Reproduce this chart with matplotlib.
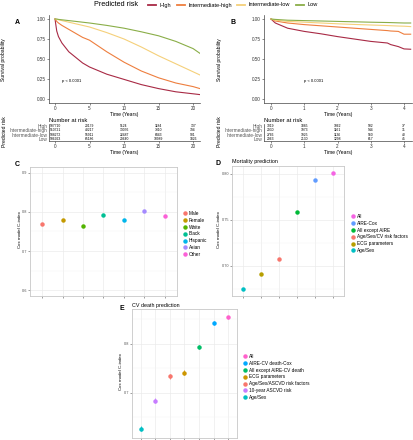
import matplotlib
matplotlib.use('Agg')
import matplotlib.pyplot as plt
from matplotlib.lines import Line2D

plt.rcParams['font.family'] = ['Liberation Sans', 'DejaVu Sans']

W, H = 414, 440

# ---- data ----
risk_groups = ['High', 'Intermediate-high', 'Intermediate-low', 'Low']
risk_colors = ['#A82A45', '#EE7E3E', '#F5D07A', '#8AAE48']

a_time = [0, 0.25, 0.5, 1, 2, 3, 4, 5, 7.5, 10, 12.5, 15, 17.5, 20, 21]
a_high = [1, 0.85, 0.78, 0.70, 0.59, 0.52, 0.45, 0.40, 0.31, 0.245, 0.18, 0.13, 0.09, 0.065, 0.055]
a_inthigh = [1, 0.97, 0.95, 0.92, 0.87, 0.82, 0.77, 0.735, 0.59, 0.46, 0.35, 0.265, 0.20, 0.155, 0.13]
a_intlow = [1, 0.995, 0.99, 0.98, 0.96, 0.94, 0.92, 0.90, 0.83, 0.75, 0.65, 0.54, 0.44, 0.34, 0.30]
a_low = [1, 1, 0.995, 0.99, 0.98, 0.97, 0.96, 0.95, 0.92, 0.885, 0.84, 0.79, 0.72, 0.63, 0.57]

b_time = [0, 0.13, 0.5, 1, 1.5, 2, 2.5, 3, 3.5, 3.6, 3.83, 4, 4.2]
b_high = [1, 0.95, 0.885, 0.845, 0.815, 0.78, 0.75, 0.72, 0.70, 0.68, 0.655, 0.626, 0.622]
b_inthigh = [1, 0.975, 0.95, 0.93, 0.915, 0.90, 0.885, 0.87, 0.855, 0.85, 0.845, 0.81, 0.81]
b_intlow = [1, 0.985, 0.97, 0.96, 0.95, 0.94, 0.932, 0.925, 0.918, 0.916, 0.912, 0.91, 0.905]
b_low = [1, 0.995, 0.985, 0.98, 0.975, 0.97, 0.965, 0.96, 0.956, 0.955, 0.952, 0.95, 0.95]

a_table_time = [0, 5, 10, 15, 20]
a_table = [
    [507710, 20179, 5124, 1184, 137],
    [510721, 40217, 13076, 3310, 394],
    [508272, 55911, 22487, 6843, 901],
    [506923, 65186, 29640, 10989, 1826],
]
b_table_time = [0, 1, 2, 3, 4]
b_table = [
    [3019, 1885, 1062, 502, 37],
    [2930, 1973, 1161, 544, 31],
    [2766, 1925, 1136, 560, 40],
    [2963, 2130, 1298, 617, 45],
]

c_groups = ['Male', 'Female', 'White', 'Black', 'Hispanic', 'Asian', 'Other']
c_cindex = [0.770, 0.779, 0.763, 0.793, 0.780, 0.802, 0.790]
c_ci = [0.002, 0.002, 0.002, 0.002, 0.002, 0.002, 0.002]
c_colors = ['#F8766D', '#C49A00', '#53B400', '#00C094', '#00B6EB', '#A58AFF', '#FB61D7']

d_models = ['Age/Sex', 'ECG parameters', 'Age/Sex/CV risk factors', 'All except AIRE', 'AIRE-Cox', 'All']
d_cindex = [0.675, 0.691, 0.707, 0.759, 0.793, 0.801]
d_ci = [0.001, 0.001, 0.001, 0.001, 0.001, 0.001]
d_colors = ['#00BFC4', '#B79F00', '#F8766D', '#00BA38', '#619CFF', '#F564E3']

e_models = ['Age/Sex', '10-year ASCVD risk', 'Age/Sex/ASCVD risk factors', 'ECG parameters',
            'All except AIRE-CV death', 'AIRE-CV death-Cox', 'All']
e_cindex = [0.627, 0.684, 0.734, 0.741, 0.794, 0.842, 0.854]
e_ci = [0.005, 0.005, 0.005, 0.005, 0.004, 0.004, 0.003]
e_colors = ['#00BFC4', '#C77CFF', '#F8766D', '#CD9600', '#00BE67', '#00A9FF', '#FF61CC']


def box(l, t, r, b):
    return [l / W, 1 - b / H, (r - l) / W, (b - t) / H]


def fx(x):
    return x / W


def fy(y):
    return 1 - y / H


fig = plt.figure(figsize=(W / 100, H / 100), dpi=100)


def km_style(ax):
    for s in ['top', 'right']:
        ax.spines[s].set_visible(False)
    for s in ['left', 'bottom']:
        ax.spines[s].set_linewidth(0.5)
        ax.spines[s].set_color('#444444')
    ax.tick_params(length=1.5, width=0.4, labelsize=3.3, pad=1, colors='#333333')


def km_panel(rect, times, curves, xlim, xticks, lx):
    ax = fig.add_axes(box(*rect))
    lines = []
    for vals, col in zip(curves, risk_colors):
        ln, = ax.plot(times, vals, color=col, lw=0.8)
        lines.append(ln)
    ax.set_xlim(*xlim)
    ax.set_ylim(-0.05, 1.05)
    ax.set_xticks(xticks)
    ax.set_yticks([0, 0.25, 0.5, 0.75, 1.0])
    ax.set_yticklabels(['0.00', '0.25', '0.50', '0.75', '1.00'])
    km_style(ax)
    ax.set_xlabel('Time (Years)', fontsize=3.6, labelpad=0.5)
    ax.text(1, 0.21, 'p < 0.0001', fontsize=3.0)
    fig.text(fx(lx), fy(60), 'Survival probability', rotation=90, fontsize=3.6,
             ha='center', va='center')
    return ax, lines


def table_panel(rect, xlim, times, table, lx):
    ax = fig.add_axes(box(*rect))
    ax.set_xlim(*xlim)
    ax.set_ylim(0.5, 4.5)
    for i, row in enumerate(table):
        for t, n in zip(times, row):
            ax.text(t, 4 - i, str(n), fontsize=2.4, ha='center', va='center')
    ax.set_xticks(times)
    ax.set_yticks([4, 3, 2, 1])
    ax.set_yticklabels(risk_groups)
    km_style(ax)
    ax.tick_params(axis='y', length=0, labelsize=3.4, pad=1, labelcolor='#555555')
    ax.set_xlabel('Time (Years)', fontsize=3.6, labelpad=0.5)
    ax.set_title('Number at risk', fontsize=4.2, loc='left', pad=1.5)
    fig.text(fx(lx), fy(132), 'Predicted risk', rotation=90, fontsize=3.6,
             ha='center', va='center')
    return ax


axA, lines = km_panel((49, 15, 200, 103), a_time, [a_high, a_inthigh, a_intlow, a_low],
                      (-0.87, 21.0), [0, 5, 10, 15, 20], 4)
axB, _ = km_panel((264, 15, 412, 103), b_time, [b_high, b_inthigh, b_intlow, b_low],
                  (-0.21, 4.24), [0, 1, 2, 3, 4], 220)

table_panel((49, 124, 200, 141), (-0.87, 21.0), a_table_time, a_table, 5)
table_panel((264, 124, 412, 141), (-0.21, 4.24), b_table_time, b_table, 220)

fig.text(fx(17), fy(22), 'A', fontsize=5, fontweight='bold', ha='center', va='center')
fig.text(fx(233), fy(22), 'B', fontsize=5, fontweight='bold', ha='center', va='center')

# top legend
fig.text(fx(94), fy(5), 'Predicted risk', fontsize=5.2, ha='left', va='center')
leg_handles = [Line2D([], [], color=c, lw=1.3) for c in risk_colors]
fig.legend(leg_handles, risk_groups, ncol=4, loc='center left', bbox_to_anchor=(fx(148), fy(5)),
           frameon=False, fontsize=4.1, handlelength=1.4, handletextpad=0.6,
           columnspacing=1.0, borderpad=0, borderaxespad=0)


def dot_panel(rect, names, vals, ci, colors, ylim, yticks, yminor, yfmt,
              title, label, label_pos, ylab_x, leg_xy, leg_names, leg_colors):
    ax = fig.add_axes(box(*rect))
    xs = list(range(1, len(names) + 1))
    for x, v, e, c in zip(xs, vals, ci, colors):
        ax.errorbar(x, v, yerr=e, fmt='o', color=c, ms=2.2, elinewidth=0.6,
                    capsize=0, zorder=3)
    handles = [Line2D([], [], marker='o', color=c, ms=2.2, linestyle='None')
               for c in leg_colors]
    ax.set_xlim(0.4, len(names) + 0.6)
    ax.set_ylim(*ylim)
    ax.set_xticks(xs)
    ax.set_xticklabels([])
    ax.set_yticks(yticks)
    ax.set_yticklabels([yfmt.format(t) for t in yticks])
    ax.set_yticks(yminor, minor=True)
    ax.grid(True, which='major', color='#EBEBEB', lw=0.5)
    ax.grid(True, which='minor', axis='y', color='#F5F5F5', lw=0.35)
    ax.set_axisbelow(True)
    for s in ax.spines.values():
        s.set_color('#C8C8C8')
        s.set_linewidth(0.6)
    ax.tick_params(which='major', length=1.2, width=0.4, labelsize=2.8, pad=1,
                   colors='#555555')
    ax.tick_params(which='minor', length=0)
    fig.text(fx(ylab_x), fy((rect[1] + rect[3]) / 2 - 2), 'Cox model C-index', rotation=90,
             fontsize=3.2, ha='center', va='center')
    if title:
        fig.text(fx(rect[0]), fy(rect[1] - 4), title, fontsize=3.9, ha='left', va='center')
    fig.text(fx(label_pos[0]), fy(label_pos[1]), label, fontsize=5, fontweight='bold',
             ha='center', va='center')
    fig.legend(handles, leg_names, loc='upper left',
               bbox_to_anchor=(fx(leg_xy[0]), fy(leg_xy[1])), frameon=False,
               fontsize=3.4, handlelength=0.8, handletextpad=0.4, labelspacing=0.38,
               borderpad=0, borderaxespad=0)
    return ax


dot_panel((30, 167, 177, 296), c_groups, c_cindex, c_ci, c_colors,
          (0.585, 0.915), [0.6, 0.7, 0.8, 0.9], [0.65, 0.75, 0.85], '{:.1f}',
          None, 'C', (17, 165), 20, (183, 211), c_groups, c_colors)

dot_panel((232, 166, 344, 296), d_models, d_cindex, d_ci, d_colors,
          (0.667, 0.8087), [0.70, 0.75, 0.80], [0.675, 0.725, 0.775], '{:.2f}',
          'Mortality prediction', 'D', (218, 163), 219, (351, 214),
          d_models[::-1], d_colors[::-1])

dot_panel((132, 309, 237, 438), e_models, e_cindex, e_ci, e_colors,
          (0.608, 0.871), [0.7, 0.8], [0.65, 0.75, 0.85], '{:.1f}',
          'CV death prediction', 'E', (122, 309), 121, (243, 354),
          e_models[::-1], e_colors[::-1])

fig.savefig('out.png', dpi=100)
